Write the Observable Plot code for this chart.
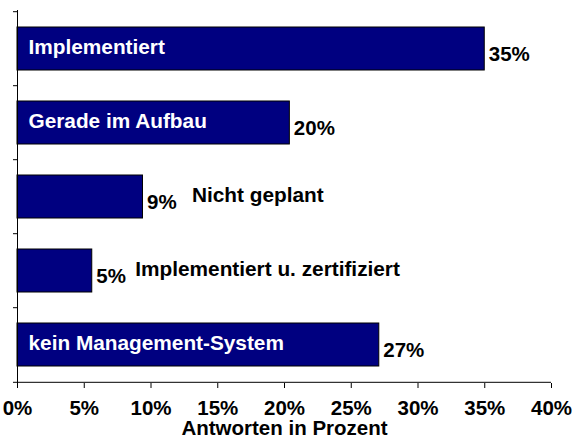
<!DOCTYPE html>
<html><head><meta charset="utf-8">
<script src="https://cdn.jsdelivr.net/npm/d3@7"></script>
<script src="https://cdn.jsdelivr.net/npm/@observablehq/plot@0.6"></script>
<style>body{margin:0;background:#fff;} svg{display:block;}</style>
</head><body><div id="chart"></div>
<script>
const categories = ["Implementiert", "Gerade im Aufbau", "Nicht geplant", "Implementiert u. zertifiziert", "kein Management-System"];
const values = [35, 20.4, 9.4, 5.6, 27.1];
const valueLabels = ["35%", "20%", "9%", "5%", "27%"];
const labelInside = [true, true, false, false, true];
const xTicks = [0, 5, 10, 15, 20, 25, 30, 35, 40];
const xTickLabels = ["0%", "5%", "10%", "15%", "20%", "25%", "30%", "35%", "40%"];
const axisTitle = "Antworten in Prozent";

const data = categories.map((c, i) => ({category: c, value: values[i], valueLabel: valueLabels[i], inside: labelInside[i]}));

const W = 581, H = 436, mt = 10, mb = 53, ml = 17, mr = 30;
const step = (H - mt - mb) / categories.length;
const font = "'Liberation Sans', Arial, Helvetica, sans-serif";
const outsideDx = {"Nicht geplant": 49, "Implementiert u. zertifiziert": 43};

const outsideMarks = data.filter(d => !d.inside).map(d =>
  Plot.text([d], {x: "value", y: "category", text: "category", textAnchor: "start",
    dx: outsideDx[d.category], dy: -2, fill: "#000", fontSize: 20.8, fontWeight: "bold"})
);

const plot = Plot.plot({
  width: W, height: H,
  marginTop: mt, marginBottom: mb, marginLeft: ml, marginRight: mr,
  style: {fontFamily: font, background: "#fff", color: "#000"},
  x: {domain: [0, 40]},
  y: {domain: categories, paddingInner: 0.42, paddingOuter: 0.21, axis: null},
  marks: [
    Plot.barX(data, {y: "category", x: "value", fill: "#000080", stroke: "#000", strokeWidth: 1}),
    Plot.ruleX([0], {stroke: "#000"}),
    Plot.ruleY([categories[categories.length - 1]], {y: d => d, x1: 0, x2: 40, dy: step / 2, stroke: "#000"}),
    Plot.ruleY(categories, {y: d => d, x1: -0.3, x2: 0, dy: -step / 2, stroke: "#000"}),
    Plot.ruleY([categories[categories.length - 1]], {y: d => d, x1: -0.3, x2: 0, dy: step / 2, stroke: "#000"}),
    Plot.axisX({ticks: xTicks, tickFormat: d => xTickLabels[xTicks.indexOf(d)], tickSize: 5, tickPadding: 12,
      fontSize: 20.5, fontWeight: "bold", label: axisTitle, labelAnchor: "center", labelArrow: false, labelOffset: 51}),
    Plot.text(data.filter(d => d.inside), {x: 0, y: "category", text: "category", textAnchor: "start",
      dx: 11, dy: -2, fill: "#fff", fontSize: 20.8, fontWeight: "bold"}),
    Plot.text(data, {x: "value", y: "category", text: "valueLabel", textAnchor: "start",
      dx: 4, dy: 5, fill: "#000", fontSize: 20.5, fontWeight: "bold"}),
    ...outsideMarks
  ]
});
document.getElementById("chart").appendChild(plot);
</script>
</body></html>
